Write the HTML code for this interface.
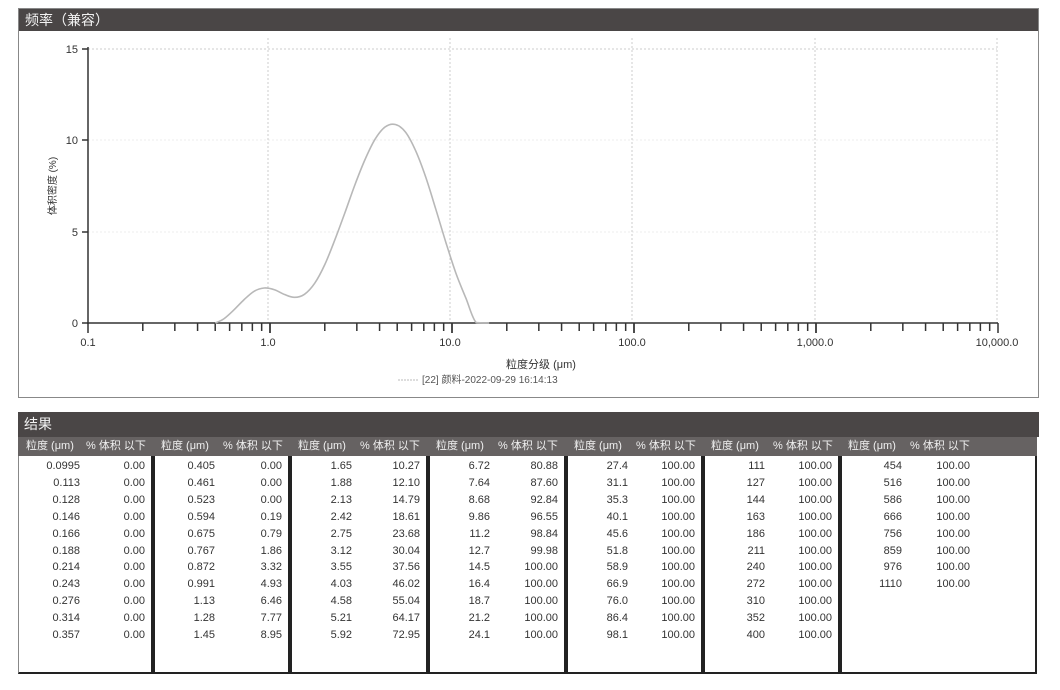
<!DOCTYPE html>
<html><head><meta charset="utf-8">
<style>
body{margin:0;width:1060px;height:690px;background:#fff;font-family:"Liberation Sans","Noto Sans CJK SC",sans-serif;position:relative;overflow:hidden}
.panel{position:absolute;left:18px;width:1021px;border:1px solid #555;box-sizing:border-box}
.bar{background:#4a4646;color:#f2f2f2;font-size:14px;padding-left:6px;box-sizing:border-box}
.t{position:absolute;font-size:11px;color:#333;text-align:right}
.grp{position:absolute;top:437px;height:237px;box-sizing:border-box}
.hd{position:absolute;top:0;height:19px;left:0;right:0;background:#666262;color:#f0f0f0;font-size:11px;line-height:19px}
.bd{position:absolute;top:19px;bottom:0;left:0;right:0;border-left:2px solid #222;border-right:2px solid #222;border-bottom:2px solid #222;background:#fff}
</style></head><body>
<div class="panel" style="top:8px;height:390px;border-color:#888">
<div class="bar" style="height:22px;line-height:22px">频率（兼容）</div>
</div>
<svg style="position:absolute;left:0;top:0" width="1060" height="400" id="s">
<g stroke="#ccc" stroke-dasharray="2,2" stroke-width="1">
<line x1="88" y1="49" x2="997" y2="49"/>
<line x1="88" y1="140" x2="997" y2="140" stroke="#eee"/>
<line x1="88" y1="232" x2="997" y2="232" stroke="#eee"/>
<line x1="268" y1="38" x2="268" y2="323"/><line x1="450" y1="38" x2="450" y2="323"/>
<line x1="632" y1="38" x2="632" y2="323"/><line x1="815" y1="38" x2="815" y2="323"/>
<line x1="997" y1="38" x2="997" y2="323"/>
</g>
<g stroke="#333" stroke-width="1.5" id="ax">
<line x1="88" y1="47" x2="88" y2="324"/><line x1="87" y1="323" x2="998" y2="323"/>
<line x1="82" y1="49" x2="88" y2="49"/><line x1="82" y1="140" x2="88" y2="140"/>
<line x1="82" y1="232" x2="88" y2="232"/><line x1="82" y1="323" x2="88" y2="323"/>
</g>
<path id="c" fill="none" stroke="#b8b8b8" stroke-width="1.6"/>
<g font-size="11" fill="#333" font-family="Liberation Sans,sans-serif">
<text x="78" y="53" text-anchor="end">15</text><text x="78" y="144" text-anchor="end">10</text>
<text x="78" y="236" text-anchor="end">5</text><text x="78" y="327" text-anchor="end">0</text>
<text x="88" y="346" text-anchor="middle">0.1</text><text x="268" y="346" text-anchor="middle">1.0</text>
<text x="450" y="346" text-anchor="middle">10.0</text><text x="632" y="346" text-anchor="middle">100.0</text>
<text x="815" y="346" text-anchor="middle">1,000.0</text><text x="997" y="346" text-anchor="middle">10,000.0</text>
<text x="541" y="368" text-anchor="middle" font-family="Liberation Sans,Noto Sans CJK SC,sans-serif">粒度分级 (μm)</text>
<text x="422" y="383" font-size="10" font-family="Liberation Sans,Noto Sans CJK SC,sans-serif" fill="#555">[22] 颜料-2022-09-29 16:14:13</text>
<text transform="translate(56,186) rotate(-90)" text-anchor="middle" font-size="10" font-family="Liberation Sans,Noto Sans CJK SC,sans-serif">体积密度 (%)</text>
</g>
<line x1="398" y1="380" x2="418" y2="380" stroke="#bbb" stroke-dasharray="2,1"/>
</svg>
<div class="panel" style="top:412px;height:263px;border:none">
<div class="bar" style="height:25px;line-height:25px">结果</div>
</div>
<div id="tbl"></div>
<script>
var ax=document.getElementById('ax'),ns='http://www.w3.org/2000/svg';
function X(v){return 88+182*(Math.log10(v)+1);}
for(var d=0.1;d<5000;d*=10){for(var k=1;k<=10;k++){var x=X(d*k);var l=document.createElementNS(ns,'line');l.setAttribute('x1',x);l.setAttribute('x2',x);l.setAttribute('y1',323);l.setAttribute('y2',(k==1||k==10)?333:331);ax.appendChild(l);}}
var s=[0.523,0.594,0.675,0.767,0.872,0.991,1.13,1.28,1.45,1.65,1.88,2.13,2.42,2.75,3.12,3.55,4.03,4.58,5.21,5.92,6.72,7.64,8.68,9.86,11.2,12.7,14.5];
var c=[0,0.19,0.79,1.86,3.32,4.93,6.46,7.77,8.95,10.27,12.10,14.79,18.61,23.68,30.04,37.56,46.02,55.04,64.17,72.95,80.88,87.60,92.84,96.55,98.84,99.98,100];
var P=[[X(0.5),323]];
for(var i=1;i<s.length;i++){var m=Math.sqrt(s[i]*s[i-1]);P.push([X(m),323-(c[i]-c[i-1])*1.19*18.27]);}
P.push([X(16),323]);
var d='M'+P[0][0]+','+P[0][1];
for(var i=0;i<P.length-1;i++){var p0=P[i-1]||P[i],p1=P[i],p2=P[i+1],p3=P[i+2]||p2;
d+=' C'+(p1[0]+(p2[0]-p0[0])/6)+','+Math.min(323,p1[1]+(p2[1]-p0[1])/6)+' '+(p2[0]-(p3[0]-p1[0])/6)+','+Math.min(323,p2[1]-(p3[1]-p1[1])/6)+' '+p2[0]+','+p2[1];}
document.getElementById('c').setAttribute('d',d);
var cols=[
[["0.0995","0.00"],["0.113","0.00"],["0.128","0.00"],["0.146","0.00"],["0.166","0.00"],["0.188","0.00"],["0.214","0.00"],["0.243","0.00"],["0.276","0.00"],["0.314","0.00"],["0.357","0.00"]],
[["0.405","0.00"],["0.461","0.00"],["0.523","0.00"],["0.594","0.19"],["0.675","0.79"],["0.767","1.86"],["0.872","3.32"],["0.991","4.93"],["1.13","6.46"],["1.28","7.77"],["1.45","8.95"]],
[["1.65","10.27"],["1.88","12.10"],["2.13","14.79"],["2.42","18.61"],["2.75","23.68"],["3.12","30.04"],["3.55","37.56"],["4.03","46.02"],["4.58","55.04"],["5.21","64.17"],["5.92","72.95"]],
[["6.72","80.88"],["7.64","87.60"],["8.68","92.84"],["9.86","96.55"],["11.2","98.84"],["12.7","99.98"],["14.5","100.00"],["16.4","100.00"],["18.7","100.00"],["21.2","100.00"],["24.1","100.00"]],
[["27.4","100.00"],["31.1","100.00"],["35.3","100.00"],["40.1","100.00"],["45.6","100.00"],["51.8","100.00"],["58.9","100.00"],["66.9","100.00"],["76.0","100.00"],["86.4","100.00"],["98.1","100.00"]],
[["111","100.00"],["127","100.00"],["144","100.00"],["163","100.00"],["186","100.00"],["211","100.00"],["240","100.00"],["272","100.00"],["310","100.00"],["352","100.00"],["400","100.00"]],
[["454","100.00"],["516","100.00"],["586","100.00"],["666","100.00"],["756","100.00"],["859","100.00"],["976","100.00"],["1110","100.00"]]];
var b=[18,153,290,428,566,703,840,1037],h='';
for(var g=0;g<7;g++){var w=b[g+1]-b[g];
h+='<div class="grp" style="left:'+b[g]+'px;width:'+w+'px"><div class="hd"><span style="position:absolute;left:8px">粒度 (μm)</span><span style="position:absolute;left:'+(g==0?68:70)+'px">% 体积 以下</span></div><div class="bd" style="'+(g==0?'border-left:1px solid #888;':'')+'"></div>';
for(var r=0;r<cols[g].length;r++){var y=23+r*16.9;
h+='<div class="t" style="top:'+y+'px;right:'+(w-62)+'px">'+cols[g][r][0]+'</div><div class="t" style="top:'+y+'px;right:'+(g==6?(w-130):8)+'px">'+cols[g][r][1]+'</div>';}
h+='</div>';}
document.getElementById('tbl').innerHTML=h;
</script>
</body></html>
